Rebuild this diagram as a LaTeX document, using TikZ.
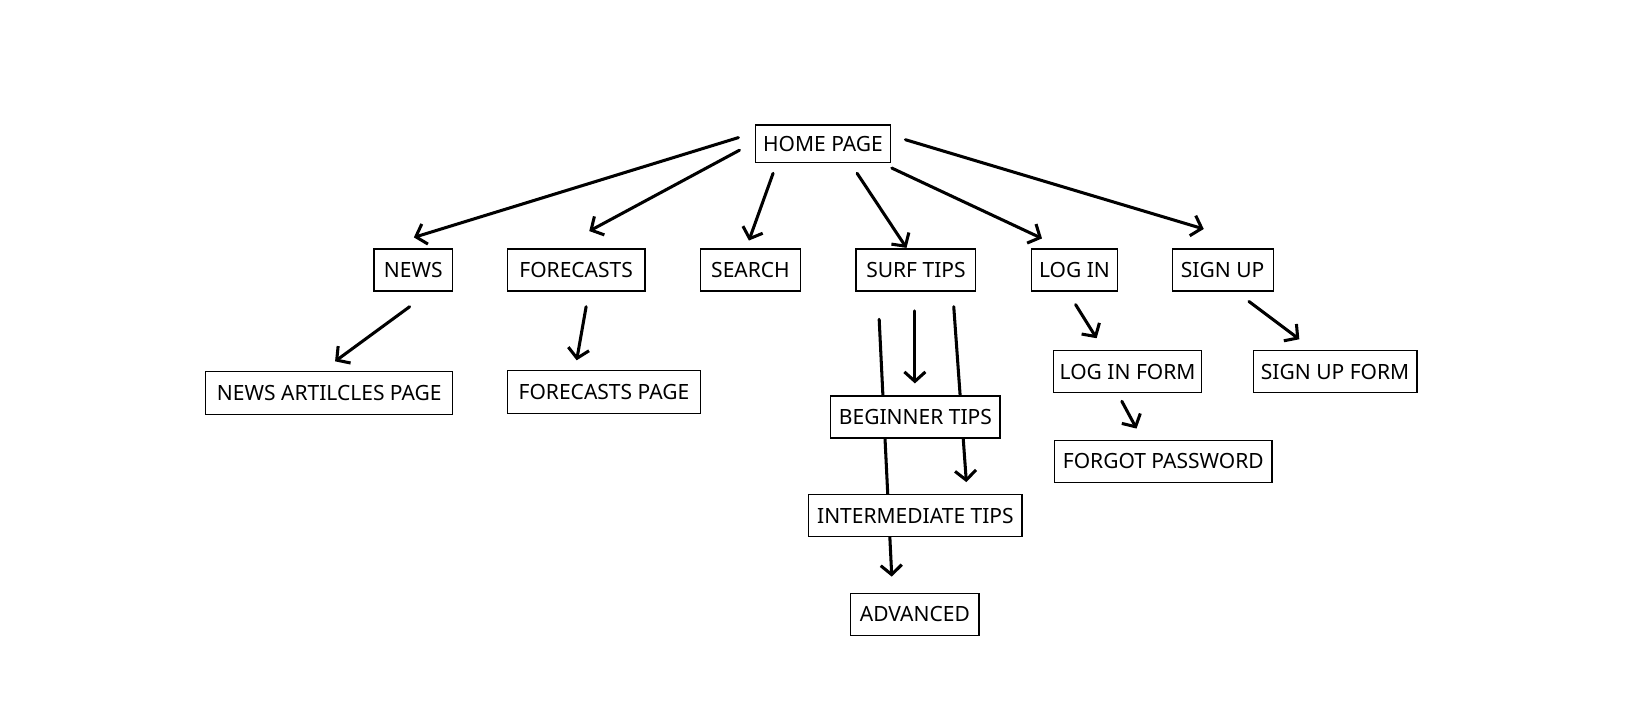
\documentclass[tikz,border=0pt]{standalone}
\usepackage{fontspec}
\setmainfont{Noto Sans}
\usetikzlibrary{arrows.meta}

\begin{document}
\begin{tikzpicture}[x=1pt,y=-1pt,
        page/.style={draw,line width=1.1pt,fill=white,inner sep=0pt,minimum height=40pt,
            font=\fontsize{20}{24}\selectfont},
        link/.style={line width=2.9pt,line cap=round,-{Straight Barb[length=9pt,width=20pt,line width=2.9pt]}}]
    \useasboundingbox (0,0) rectangle (1568,693);

    % hand drawn arrows, free ends
    \coordinate (h1) at (703,131);   \coordinate (n0) at (394,226);
    \coordinate (h2) at (704,143);   \coordinate (f0) at (561,220);
    \coordinate (h3) at (736,165);   \coordinate (s0) at (713,229);
    \coordinate (h4) at (816,165);   \coordinate (t0) at (863,236);
    \coordinate (h5) at (849,160);   \coordinate (l0) at (992,227);
    \coordinate (h6) at (862,133);   \coordinate (u0) at (1146,218);
    \coordinate (n1) at (390,292);   \coordinate (na) at (319,344);
    \coordinate (f1) at (558,292);   \coordinate (fp) at (549,343);
    \coordinate (t1) at (837,304);   \coordinate (ad) at (849,549);
    \coordinate (t2) at (871,296);   \coordinate (bt) at (871,365);
    \coordinate (t3) at (908,292);   \coordinate (it) at (920,459);
    \coordinate (l1) at (1024,290);  \coordinate (lf) at (1044,322);
    \coordinate (u1) at (1189,287);  \coordinate (uf) at (1237,323);
    \coordinate (l2) at (1068,382);  \coordinate (fg) at (1082,408);

    \draw[link] (h1) -- (n0);
    \draw[link] (h2) -- (f0);
    \draw[link] (h3) -- (s0);
    \draw[link] (h4) -- (t0);
    \draw[link] (h5) -- (l0);
    \draw[link] (h6) -- (u0);
    \draw[link] (n1) -- (na);
    \draw[link] (f1) -- (fp);
    \draw[link] (t1) -- (ad);
    \draw[link] (t2) -- (bt);
    \draw[link] (t3) -- (it);
    \draw[link] (l1) -- (lf);
    \draw[link] (u1) -- (uf);
    \draw[link] (l2) -- (fg);

    % pages
    \node[page,minimum width=129pt,minimum height=36pt] (home) at (783.5,137) {HOME PAGE};
    \node[page,minimum width=75pt]  (news)   at (393.5,257) {NEWS};
    \node[page,minimum width=131pt] (fore)   at (548.5,257) {FORECASTS};
    \node[page,minimum width=95pt]  (search) at (714.5,257) {SEARCH};
    \node[page,minimum width=114pt] (surf)   at (872,257)   {SURF TIPS};
    \node[page,minimum width=82pt]  (login)  at (1023,257)  {LOG IN};
    \node[page,minimum width=96pt]  (signup) at (1164,257)  {SIGN UP};

    \node[page,minimum width=235pt,minimum height=41pt] (newsart)  at (313.5,374.5) {NEWS ARTILCLES PAGE};
    \node[page,minimum width=184pt,minimum height=41pt] (forepage) at (575,373.5)   {FORECASTS PAGE};

    \node[page,minimum width=161pt] (beginner) at (871.5,397) {BEGINNER TIPS};
    \node[page,minimum width=203pt] (inter)    at (871.5,491) {INTERMEDIATE TIPS};
    \node[page,minimum width=122pt] (advanced) at (871,585)   {ADVANCED};

    \node[page,minimum width=141pt] (loginform)  at (1073.5,354) {LOG IN FORM};
    \node[page,minimum width=156pt] (signupform) at (1271,354)   {SIGN UP FORM};
    \node[page,minimum width=207pt] (forgot)     at (1107.5,439) {FORGOT PASSWORD};
\end{tikzpicture}
\end{document}
